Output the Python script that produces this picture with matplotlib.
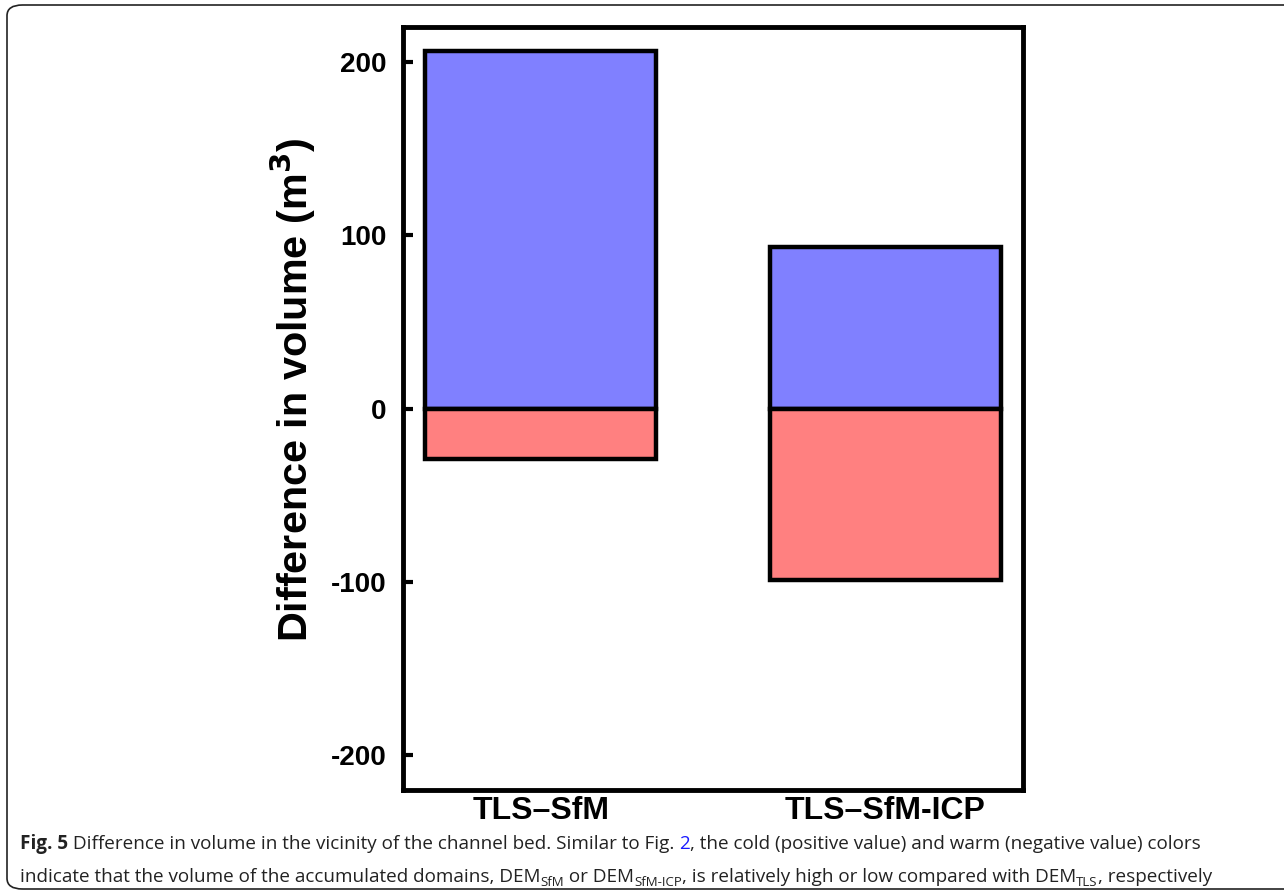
import matplotlib.pyplot as plt
from matplotlib.patches import FancyBboxPatch

# values (m^3)
groups = ['TLS\u2013SfM', 'TLS\u2013SfM-ICP']
positive = [206, 93]
negative = [-29, -99]
yticks = [-200, -100, 0, 100, 200]

plt.rcParams['font.family'] = ['Liberation Sans', 'DejaVu Sans']

fig = plt.figure(figsize=(12.84, 8.94), dpi=100)
ax = fig.add_axes([0.3139, 0.1163, 0.4829, 0.8535])

x = list(range(len(groups)))
ax.bar(x, positive, width=0.67, color='#8080ff', edgecolor='black', linewidth=3.2)
ax.bar(x, negative, width=0.67, color='#ff8080', edgecolor='black', linewidth=3.2)

ax.set_xlim(-0.4, 1.4)
ax.set_ylim(-220, 220)
ax.set_yticks(yticks)
ax.set_yticklabels([str(v) for v in yticks], fontsize=20, fontweight='bold')
ax.set_xticks(x)
ax.set_xticklabels(groups, fontsize=23, fontweight='bold')
ax.tick_params(axis='y', direction='in', length=7, width=3, pad=12)
ax.tick_params(axis='x', length=0, pad=4)
for s in ax.spines.values():
    s.set_linewidth(3.5)
ax.set_ylabel('Difference in volume (m$^\\mathbf{3}$)', fontsize=29.8, fontweight='bold')
ax.yaxis.set_label_coords(-0.137, 0.525)

# outer frame
frame = FancyBboxPatch((7 / 1284, 5 / 894), 1.1, 884 / 894, boxstyle='round,pad=0,rounding_size=0.012',
                       transform=fig.transFigure, fill=False, edgecolor='#222222', linewidth=1.2, clip_on=False)
fig.patches.append(frame)

# caption, pieced together so the link colour and subscripts work
cap_font = ['Open Sans', 'DejaVu Sans']
fs = 13.6
renderer = fig.canvas.get_renderer()


def piece(x0, y0, s, size=fs, weight='normal', color='#222222', dy=0):
    t = fig.text(x0, y0 - dy, s, fontsize=size, fontweight=weight, color=color,
                 family=cap_font, va='baseline', ha='left', transform=None)
    bb = t.get_window_extent(renderer)
    return bb.x1


W, H = 1284, 894
y1 = H - 849
y2 = H - 882
sub = 9.5
sd = 4

xx = piece(20, y1, 'Fig. 5', weight='bold')
xx = piece(xx, y1, ' Difference in volume in the vicinity of the channel bed. Similar to Fig. ')
xx = piece(xx, y1, '2', color='#1a1aff')
xx = piece(xx, y1, ', the cold (positive value) and warm (negative value) colors')

xx = piece(20, y2, 'indicate that the volume of the accumulated domains, DEM')
xx = piece(xx, y2, 'SfM', size=sub, dy=sd)
xx = piece(xx, y2, ' or DEM')
xx = piece(xx, y2, 'SfM-ICP', size=sub, dy=sd)
xx = piece(xx, y2, ', is relatively high or low compared with DEM')
xx = piece(xx, y2, 'TLS', size=sub, dy=sd)
xx = piece(xx, y2, ', respectively')

fig.savefig('out.png', dpi=100)
